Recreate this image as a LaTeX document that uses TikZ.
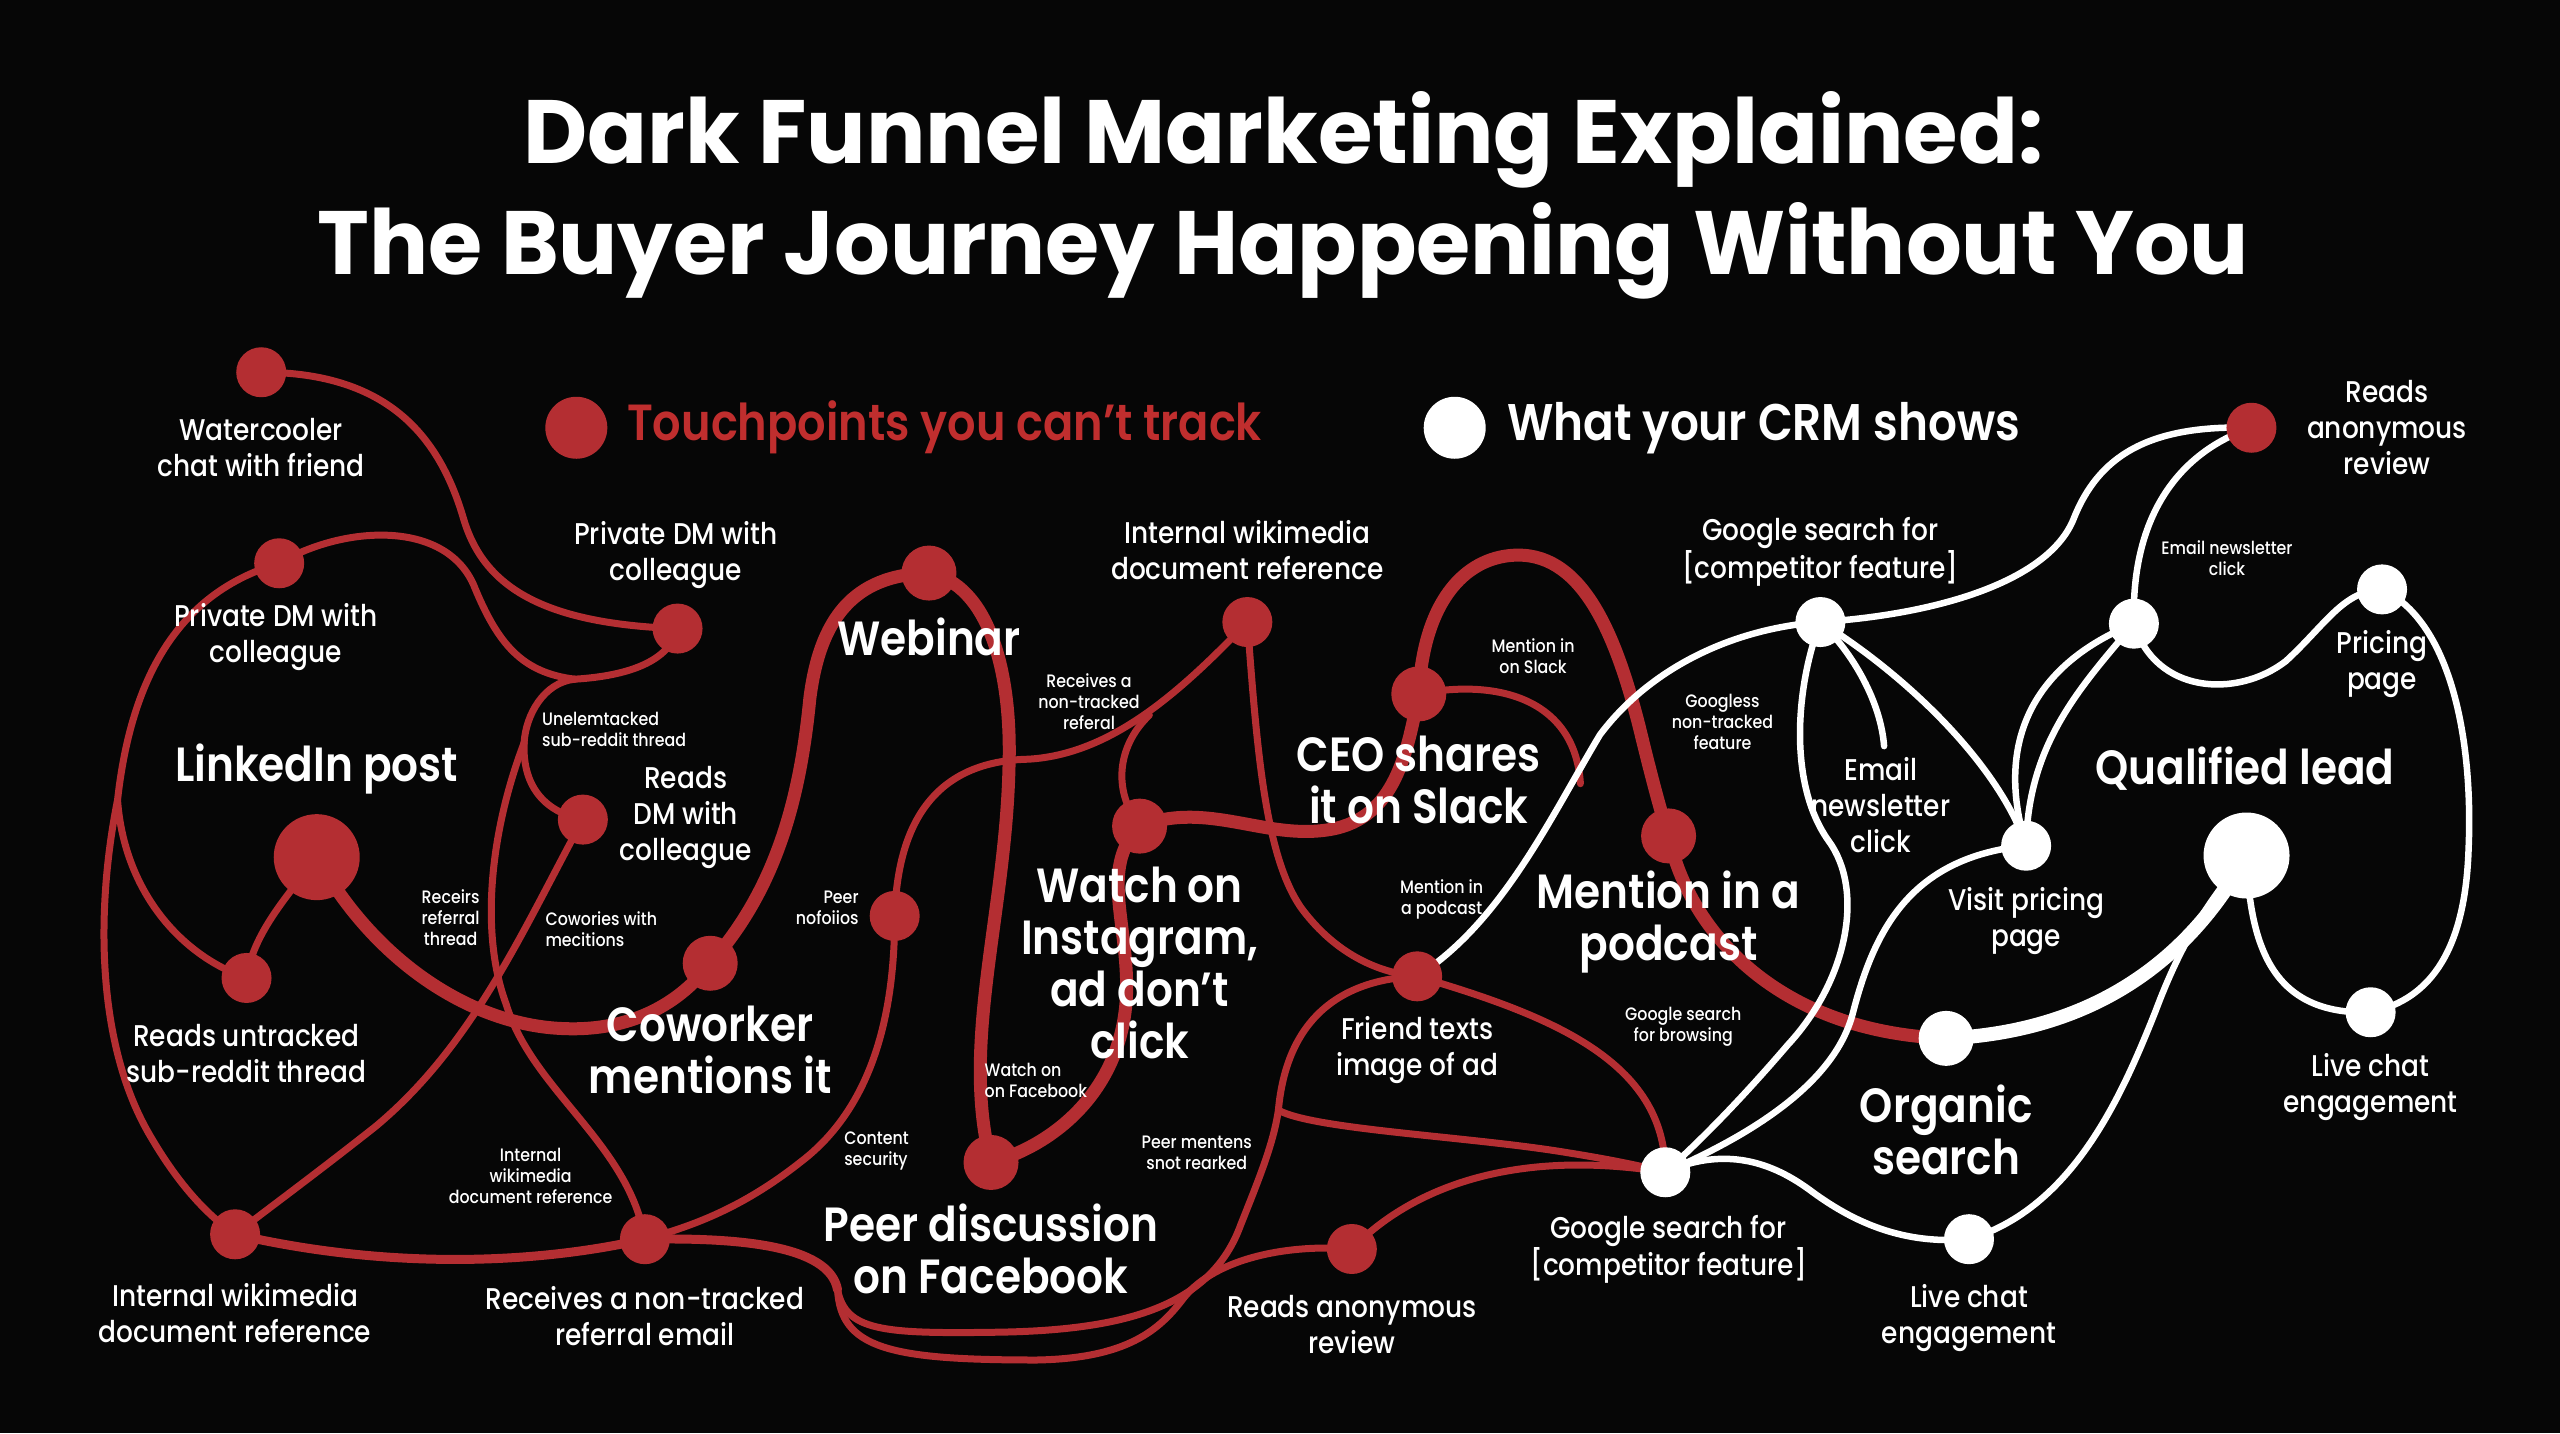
\documentclass[tikz,border=0pt]{standalone}
\usepackage{graphicx}
\usepackage{fontspec}
\setmainfont{Poppins}
\IfFontExistsTF{Poppins Medium}{\newfontfamily\fmed{Poppins Medium}[FakeStretch=0.88]}{\newfontfamily\fmed{Poppins}[FakeStretch=0.88]}
\IfFontExistsTF{Poppins SemiBold}{\newfontfamily\fsemi{Poppins SemiBold}[FakeStretch=0.88]}{\newfontfamily\fsemi{Poppins}[FakeStretch=0.88,FakeBold=1.5]}
\definecolor{tred}{RGB}{180,46,50}
\definecolor{tredtxt}{RGB}{192,46,46}
\definecolor{bgc}{RGB}{6,6,6}
\pgfdeclarelayer{bgfill}
\pgfdeclarelayer{background}
\pgfsetlayers{bgfill,background,main}
\tikzset{
  rdot/.style={circle, fill=tred, inner sep=0pt, minimum size=50pt},
  rdotm/.style={rdot, minimum size=55pt},
  rdotb/.style={rdot, minimum size=86pt},
  wdot/.style={circle, fill=white, inner sep=0pt, minimum size=50pt},
  wdotm/.style={wdot, minimum size=55pt},
  wdotb/.style={wdot, minimum size=86pt},
  rthin/.style={draw=tred, line width=7pt, line cap=round},
  rmid/.style={draw=tred, line width=9pt, line cap=round},
  rthick/.style={draw=tred, line width=13pt, line cap=round},
  wthin/.style={draw=white, line width=6.5pt, line cap=round},
  wthick/.style={draw=white, line width=14pt, line cap=round},
  lblS/.style={text=white, align=center, inner sep=0pt, font=\fmed\fontsize{18}{21}\selectfont},
  lblM/.style={text=white, align=center, inner sep=0pt, font=\fmed\fontsize{30}{36}\selectfont},
  lblL/.style={text=white, align=center, inner sep=0pt, font=\fsemi\fontsize{48}{52}\selectfont},
}
\begin{document}
\begin{tikzpicture}[x=1.6327pt,y=-1.6327pt]
\useasboundingbox (0,0) rectangle (1568,878);
\begin{pgfonlayer}{bgfill}
\fill[bgc] (0,0) rectangle (1568,878);
\end{pgfonlayer}

% ---------- title ----------
\node[anchor=base, text=white, inner sep=0pt] (t1) at (786,100) {\resizebox{1519pt}{72pt}{\bfseries Dark Funnel Marketing Explained:}};
\node[anchor=base, text=white, inner sep=0pt] (t2) at (786,168) {\resizebox{1931pt}{72pt}{\bfseries The Buyer Journey Happening Without You}};

% ---------- legend ----------
\node[rdot, minimum size=62pt] (legr) at (353,262) {};
\node[anchor=west, text=tredtxt, inner sep=0pt] (legrt) at (384,262) {\resizebox{635pt}{!}{\fsemi Touchpoints you can’t track}};
\node[wdot, minimum size=62pt] (legw) at (891,262) {};
\node[anchor=west, text=white, inner sep=0pt] (legwt) at (923,262) {\resizebox{513pt}{!}{\fsemi What your CRM shows}};

% ---------- red dots ----------
\node[rdot] (wc) at (160,228) {};
\node[rdot] (pdl) at (171,345) {};
\node[rdot] (pdt) at (415,385) {};
\node[rdot] (rdm) at (357,502) {};
\node[rdotb] (li) at (194,525) {};
\node[rdot] (rut) at (151,599) {};
\node[rdotm] (cw) at (435,590) {};
\node[rdotm] (web) at (569,351) {};
\node[rdot] (pnf) at (548,561) {};
\node[rdot] (iwt) at (764,381) {};
\node[rdotm] (wig) at (698,506) {};
\node[rdotm] (ceo) at (869,425) {};
\node[rdotm] (mip) at (1022,512) {};
\node[rdot] (frd) at (868,598) {};
\node[rdotm] (pdf) at (607,712) {};
\node[rdot] (iwb) at (144,756) {};
\node[rdot] (rcv) at (395,759) {};
\node[rdot] (rar) at (828,765) {};
\node[rdot] (rat) at (1379,262) {};

% ---------- white dots ----------
\node[wdot] (gst) at (1115,381) {};
\node[wdot] (enc) at (1307,382) {};
\node[wdot] (ppg) at (1459,361) {};
\node[wdot] (vpp) at (1241,518) {};
\node[wdotb] (qld) at (1376,524) {};
\node[wdotm] (org) at (1192,636) {};
\node[wdot] (lcr) at (1452,620) {};
\node[wdot] (gsb) at (1020,718) {};
\node[wdot] (lcb) at (1206,759) {};

% ---------- junctions / free ends ----------
\coordinate (J1) at (352,416);
\coordinate (B1) at (321,455);
\coordinate (B2) at (72,490);
\coordinate (J3) at (704,438);
\coordinate (J2) at (783,680);
\coordinate (L1) at (513,790);
\coordinate (CE) at (968,480);
\coordinate (EE) at (1154,457);

% ---------- connectors ----------
\begin{pgfonlayer}{background}
% left cluster
\draw[rthin] (wc.center) .. controls (240,228) and (270,270) .. (284,318) .. controls (296,358) and (330,382) .. (pdt.center);
\draw[rthin] (pdl.center) .. controls (210,322) and (272,318) .. (290,358) .. controls (305,395) and (320,412) .. (J1);
\draw[rthin] (pdt.center) .. controls (410,405) and (385,414) .. (J1);
\draw[rthin] (J1) .. controls (333,418) and (322,438) .. (B1);
\draw[rthin] (B1) .. controls (320,480) and (332,497) .. (rdm.center);
\draw[rthin] (B1) .. controls (300,510) and (294,572) .. (310,615) .. controls (326,668) and (385,700) .. (rcv.center);
\draw[rthin] (rdm.center) .. controls (320,570) and (290,640) .. (230,690) .. controls (192,720) and (162,742) .. (iwb.center);
\draw[rthin] (pdl.center) .. controls (120,360) and (82,400) .. (B2);
\draw[rthin] (B2) .. controls (76,545) and (110,585) .. (rut.center);
\draw[rthin] (B2) .. controls (58,560) and (60,640) .. (91,694) .. controls (110,727) and (128,745) .. (iwb.center);
\draw[rthin] (li.center) .. controls (175,550) and (155,572) .. (rut.center);
\draw[rthick] (li.center) .. controls (230,590) and (290,628) .. (345,630) .. controls (392,632) and (420,610) .. (cw.center);
\draw[rthick] (cw.center) .. controls (475,545) and (490,490) .. (496,428) .. controls (502,380) and (522,352) .. (web.center);
\draw[rthick] (web.center) .. controls (605,358) and (620,410) .. (618,470) .. controls (616,560) and (588,640) .. (pdf.center);
\draw[rmid] (iwb.center) .. controls (230,776) and (320,776) .. (rcv.center);
\draw[rthin] (pnf.center) .. controls (548,620) and (535,678) .. (490,712) .. controls (452,742) and (420,752) .. (rcv.center);
\draw[rthin] (pnf.center) .. controls (550,495) and (580,466) .. (630,465) .. controls (680,462) and (722,425) .. (iwt.center);
\draw[rthin] (J3) .. controls (686,455) and (680,482) .. (wig.center);
% middle
\draw[rthick] (pdf.center) .. controls (650,700) and (692,662) .. (690,600) .. controls (689,560) and (675,530) .. (wig.center);
\draw[rthick] (wig.center) .. controls (740,490) and (775,515) .. (815,508) .. controls (855,501) and (862,460) .. (ceo.center);
\draw[rthick] (ceo.center) .. controls (872,365) and (900,340) .. (930,340) .. controls (970,340) and (990,390) .. (1004,445) .. controls (1012,478) and (1018,500) .. (mip.center);
\draw[rthick] (mip.center) .. controls (1035,572) and (1090,632) .. (org.center);
\draw[rthin] (ceo.center) .. controls (920,415) and (965,430) .. (CE);
\draw[rthin] (iwt.center) .. controls (770,460) and (775,530) .. (800,560) .. controls (820,585) and (845,596) .. (frd.center);
\draw[rthin] (frd.center) .. controls (950,622) and (1020,650) .. (gsb.center);
\draw[rthin] (frd.center) .. controls (820,600) and (788,625) .. (J2);
\draw[rthin] (J2) .. controls (805,692) and (900,696) .. (960,706) .. controls (985,710) and (1005,714) .. (gsb.center);
\draw[rmid] (rcv.center) .. controls (450,758) and (508,762) .. (L1);
\draw[rthin] (L1) .. controls (518,815) and (540,817) .. (609,816) .. controls (690,815) and (742,800) .. (760,750) .. controls (772,720) and (780,700) .. (J2);
\draw[rthin] (L1) .. controls (515,826) and (545,833) .. (635,833) .. controls (690,832) and (710,815) .. (725,795) .. controls (745,770) and (790,762) .. (rar.center);
\draw[rthin] (rar.center) .. controls (860,732) and (920,702) .. (gsb.center);
% white network
\draw[wthin] (frd.center) .. controls (920,565) and (950,500) .. (980,450) .. controls (1010,410) and (1060,385) .. (gst.center);
\draw[wthin] (gst.center) .. controls (1190,376) and (1255,355) .. (1270,318) .. controls (1285,280) and (1315,260) .. (rat.center);
\draw[wthin] (rat.center) .. controls (1340,275) and (1305,310) .. (enc.center);
\draw[wthin] (gst.center) .. controls (1135,400) and (1152,430) .. (EE);
\draw[wthin] (gst.center) .. controls (1100,420) and (1095,480) .. (1120,515) .. controls (1142,545) and (1132,600) .. (1095,640) .. controls (1065,675) and (1040,700) .. (gsb.center);
\draw[wthin] (gst.center) .. controls (1170,415) and (1225,470) .. (vpp.center);
\draw[wthin] (enc.center) .. controls (1250,405) and (1220,450) .. (vpp.center);
\draw[wthin] (enc.center) .. controls (1275,420) and (1242,455) .. (vpp.center);
\draw[wthin] (enc.center) .. controls (1320,425) and (1370,428) .. (1400,405) .. controls (1425,382) and (1435,362) .. (ppg.center);
\draw[wthin] (ppg.center) .. controls (1500,380) and (1515,450) .. (1512,520) .. controls (1510,580) and (1490,612) .. (lcr.center);
\draw[wthin] (qld.center) .. controls (1378,580) and (1392,622) .. (lcr.center);
\draw[wthick] (qld.center) .. controls (1340,590) and (1280,632) .. (org.center);
\draw[wthin] (vpp.center) .. controls (1170,525) and (1148,570) .. (1135,620) .. controls (1125,660) and (1080,692) .. (gsb.center);
\draw[wthin] (gsb.center) .. controls (1060,700) and (1090,715) .. (1110,730) .. controls (1140,752) and (1170,762) .. (lcb.center);
\draw[wthin] (lcb.center) .. controls (1270,740) and (1300,670) .. (1320,620) .. controls (1335,580) and (1350,555) .. (qld.center);
\end{pgfonlayer}

% ---------- labels ----------
\node[lblM] (l1) at (160,274) {Watercooler\\chat with friend};
\node[lblM] (l2) at (414,340) {Private DM with\\colleague};
\node[lblM] (l3) at (169,390) {Private DM with\\colleague};
\node[lblL] (l4) at (194,471) {LinkedIn post};
\node[lblS, anchor=west, align=left] (l5) at (332,447) {Unelemtacked\\sub-reddit thread};
\node[lblM] (l6) at (420,501) {Reads\\DM with\\colleague};
\node[lblS] (l7) at (276,562) {Receirs\\referral\\thread};
\node[lblS, anchor=west, align=left] (l8) at (334,569) {Cowories with\\mecitions};
\node[lblM] (l9) at (151,645) {Reads untracked\\sub-reddit thread};
\node[lblL] (l10) at (435,643) {Coworker\\mentions it};
\node[lblL] (l11) at (569,390) {Webinar};
\node[lblS] (l12) at (667,430) {Receives a\\non-tracked\\referal};
\node[lblM] (l13) at (764,337) {Internal wikimedia\\document reference};
\node[lblS, anchor=east, align=right] (l14) at (526,556) {Peer\\nofoiios};
\node[lblL] (l15) at (698,590) {Watch on\\Instagram,\\ad don’t\\click};
\node[lblS, anchor=west, align=left] (l16) at (603,662) {Watch on\\on Facebook};
\node[lblS, anchor=west, align=left] (l17) at (517,705) {Content\\security};
\node[lblL] (l18) at (607,765) {Peer discussion\\on Facebook};
\node[lblS] (l19) at (733,706) {Peer mentens\\snot rearked};
\node[lblS] (l20) at (939,402) {Mention in\\on Slack};
\node[lblL] (l21) at (869,478) {CEO shares\\it on Slack};
\node[lblS] (l22) at (883,551) {Mention in\\a podcast};
\node[lblL] (l23) at (1022,565) {Mention in a\\podcast};
\node[lblM] (l24) at (868,643) {Friend texts\\image of ad};
\node[lblS] (l25) at (1031,629) {Google search\\for browsing};
\node[lblS] (l26) at (1055,442) {Googless\\non-tracked\\feature};
\node[lblM] (l27) at (1115,338) {Google search for\\{[competitor feature]}};
\node[lblS] (l28) at (1364,342) {Email newsletter\\click};
\node[lblM] (l29) at (1462,262) {Reads\\anonymous\\review};
\node[lblM] (l30) at (1459,407) {Pricing\\page};
\node[lblM] (l31) at (1152,493) {Email\\newsletter\\click};
\node[lblM] (l32) at (1241,564) {Visit pricing\\page};
\node[lblL] (l33) at (1375,471) {Qualified lead};
\node[lblL] (l34) at (1192,692) {Organic\\search};
\node[lblM] (l35) at (1452,666) {Live chat\\engagement};
\node[lblM] (l36) at (1022,765) {Google search for\\{[competitor feature]}};
\node[lblM] (l37) at (1206,807) {Live chat\\engagement};
\node[lblM] (l38) at (144,804) {Internal wikimedia\\document reference};
\node[lblM] (l39) at (395,806) {Receives a non-tracked\\referral email};
\node[lblM] (l40) at (828,811) {Reads anonymous\\review};
\node[lblS] (l41) at (325,720) {Internal\\wikimedia\\document reference};
\end{tikzpicture}
\end{document}
